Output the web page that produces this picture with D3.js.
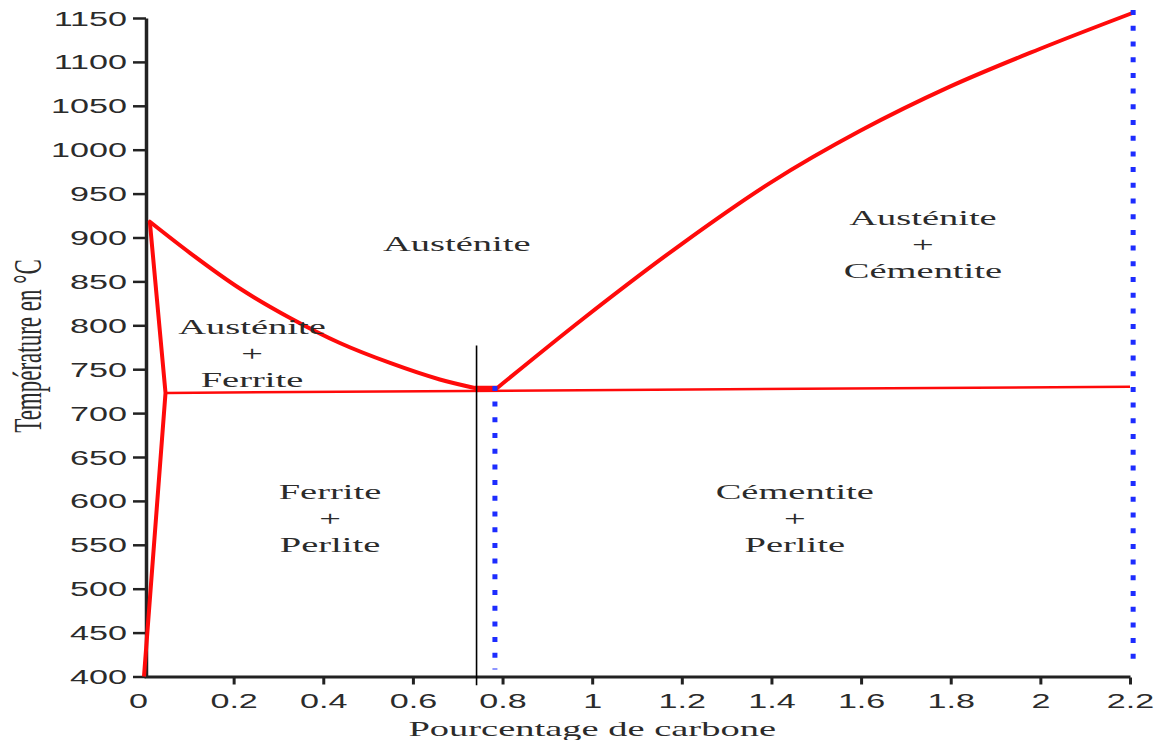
<!DOCTYPE html>
<html>
<head>
<meta charset="utf-8">
<script src="https://cdn.jsdelivr.net/npm/d3@7/dist/d3.min.js"></script>
<style>
  html, body { margin: 0; padding: 0; background: #fff; }
  svg { display: block; }
</style>
</head>
<body>
<svg id="chart" width="1166" height="740"></svg>
<script>
// Fe–C phase diagram, steel side (0 – 2.2 % C)

const xTicks = [0, 0.2, 0.4, 0.6, 0.8, 1, 1.2, 1.4, 1.6, 1.8, 2, 2.2];
const xTickLabels = ["0", "0.2", "0.4", "0.6", "0.8", "1", "1.2", "1.4", "1.6", "1.8", "2", "2.2"];
const yTicks = [400, 450, 500, 550, 600, 650, 700, 750, 800, 850, 900, 950, 1000, 1050, 1100, 1150];

// A3 line: austenite / austenite + ferrite boundary  [%C, °C]
const a3Line = [[0.013, 918], [0.103, 882.3], [0.214, 841.9], [0.326, 808.3], [0.437, 779.8],
                [0.549, 757.1], [0.660, 738.3], [0.738, 728.6]];
// short thick run at the eutectoid point
const eutectoidJoin = [[0.738, 728.6], [0.788, 728.6]];
// Acm line: austenite / austenite + cementite boundary
const acmLine = [[0.788, 728.6], [0.979, 807.2], [1.198, 892], [1.399, 962.8], [1.598, 1021.5],
                 [1.798, 1071.8], [1.997, 1114.4], [2.207, 1156]];
// ferrite solvus wedge at the left edge
const ferriteWedge = [[0.013, 918], [0.048, 723], [0, 400]];
// eutectoid isotherm (A1)
const a1Line = [[0.048, 723], [2.2, 730]];
// thin marker line and dotted composition lines
const markerLine = [[0.742, 777], [0.742, 390]];
const dottedEutectoid = [[0.783, 731], [0.783, 408]];
const dottedLimit = [[2.207, 1159], [2.207, 408]];

// phase region names: [lines, %C, °C of first baseline]
const regions = [
  [["Austénite"], 0.698, 885],
  [["Austénite", "+", "Cémentite"], 1.738, 914],
  [["Austénite", "+", "Ferrite"], 0.241, 790],
  [["Ferrite", "+", "Perlite"], 0.415, 602],
  [["Cémentite", "+", "Perlite"], 1.452, 602]
];

const xTitle = "Pourcentage de carbone";
const yTitle = "Température en °C";

// ---------------------------------------------------------------
const SX = 1.75;                 // horizontal stretch applied to all text
const sans = "'Liberation Sans', Arial, sans-serif";
const serif = "'Liberation Serif', 'Times New Roman', serif";
const RED = "#ff0a0a", BLUE = "#1d2cff", INK = "#2b2b2b";

const svg = d3.select("#chart");
svg.append("rect").attr("width", 1166).attr("height", 740).attr("fill", "#fff");

const x = d3.scaleLinear().domain([0, 2.2]).range([144, 1130]);
const y = d3.scaleLinear().domain([400, 1150]).range([676.5, 18]);

const line = d3.line().x(d => x(d[0])).y(d => y(d[1]));
const smooth = d3.line().x(d => x(d[0])).y(d => y(d[1])).curve(d3.curveMonotoneX);

// axes
const gx = svg.append("g").attr("transform", `translate(0,${y(400)})`)
  .call(d3.axisBottom(x).tickValues(xTicks).tickSize(8).tickSizeOuter(0)
          .tickFormat((d, i) => xTickLabels[i]));
gx.select(".domain").attr("stroke", "#222").attr("stroke-width", 3);
gx.selectAll(".tick line").attr("stroke", "#222").attr("stroke-width", 3)
  .attr("y1", 1);
gx.selectAll(".tick text")
  .attr("y", 31.5).attr("dy", 0)
  .attr("transform", `scale(${SX},1)`)
  .attr("fill", INK)
  .style("font-family", sans).style("font-size", "19.5px");
gx.selectAll(".tick").filter(d => d === 0).each(function () {
  const t = d3.select(this);
  t.select("line").remove();
  t.select("text").attr("x", -6 / SX);
});

const gy = svg.append("g").attr("transform", `translate(${x(0) + 2},0)`)
  .call(d3.axisLeft(y).tickValues(yTicks).tickSize(13).tickSizeOuter(0)
          .tickFormat(d3.format("d")));
gy.select(".domain").attr("stroke", "#222").attr("stroke-width", 3.5);
gy.selectAll(".tick line").attr("stroke", "#222").attr("stroke-width", 2.5);
gy.selectAll(".tick text")
  .attr("x", -19 / SX).attr("dy", "0.36em")
  .attr("transform", `scale(${SX},1)`)
  .attr("fill", INK)
  .style("font-family", sans).style("font-size", "19.5px");

// axis titles
svg.append("text")
  .attr("transform", `translate(${x(1.0)},${y(400) + 59}) scale(${SX},1)`)
  .attr("text-anchor", "middle")
  .attr("fill", INK)
  .style("font-family", serif).style("font-size", "22px")
  .text(xTitle);

svg.append("text")
  .attr("transform", `translate(41,346) scale(${SX},1) rotate(-90)`)
  .attr("text-anchor", "middle")
  .attr("fill", INK)
  .style("font-family", serif).style("font-size", "23px")
  .text(yTitle);

// phase boundaries
const plot = svg.append("g").attr("fill", "none").attr("stroke-linejoin", "round");

plot.append("path").datum(a1Line).attr("d", line)
  .attr("stroke", RED).attr("stroke-width", 2.5);
plot.append("path").datum(ferriteWedge).attr("d", line)
  .attr("stroke", RED).attr("stroke-width", 4);
plot.append("path").datum(a3Line).attr("d", smooth)
  .attr("stroke", RED).attr("stroke-width", 4).attr("stroke-linecap", "round");
plot.append("path").datum(eutectoidJoin).attr("d", line)
  .attr("stroke", RED).attr("stroke-width", 4.5);
plot.append("path").datum(acmLine).attr("d", smooth)
  .attr("stroke", RED).attr("stroke-width", 4).attr("stroke-linecap", "round");

plot.append("path").datum(markerLine).attr("d", line)
  .attr("stroke", "#000").attr("stroke-width", 1.6);

[dottedEutectoid, dottedLimit].forEach(seg => {
  plot.append("path").datum(seg).attr("d", line)
    .attr("stroke", BLUE).attr("stroke-width", 5)
    .attr("stroke-dasharray", "5 10.7");
});

// region names
const lineGap = 26.5;
regions.forEach(([lines, cx, t]) => {
  lines.forEach((s, i) => {
    svg.append("text")
      .attr("transform", `translate(${x(cx)},${y(t) + i * lineGap}) scale(${SX},1)`)
      .attr("text-anchor", "middle")
      .attr("fill", INK)
      .style("font-family", serif).style("font-size", "22px")
      .text(s);
  });
});
</script>
</body>
</html>
